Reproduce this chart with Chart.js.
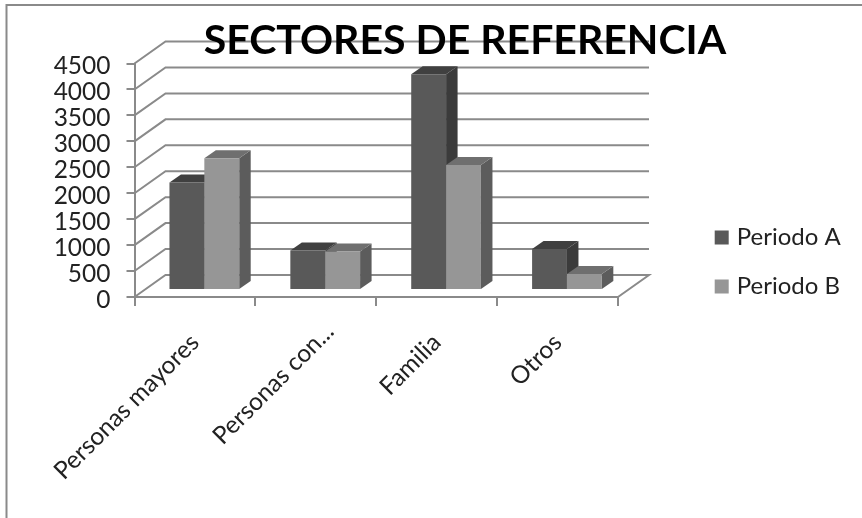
<!DOCTYPE html>
<html>
<head>
<meta charset="utf-8">
<title>Sectores de referencia</title>
<script src="https://cdn.jsdelivr.net/npm/chart.js@4"></script>
<style>
    html, body { margin: 0; padding: 0; background: #fff; }
    #wrap { width: 862px; height: 518px; }
</style>
</head>
<body>
<div id="wrap"><canvas id="sectoresChart" width="862" height="518"></canvas></div>
<script>
const categories = ['Personas mayores', 'Personas con...', 'Familia', 'Otros'];
const periodoA = [2070, 760, 4160, 790];
const periodoB = [2540, 740, 2410, 310];
const yTicks = [0, 500, 1000, 1500, 2000, 2500, 3000, 3500, 4000, 4500];

const lineGrey = '#8a8a8a';
const fontName = 'Lato, "Open Sans", sans-serif';

// depth of the fake 3d box and of the bars inside it
const wall = { x: 31, y: -22 };
const barShift = { x: 9.4, y: -7 };
const barDepth = { x: 11.5, y: -8 };
const shades = [
    { side: '#3b3b3b', top: '#404040' },
    { side: '#5c5c5c', top: '#6f6f6f' }
];

function poly(ctx, color, pts) {
    ctx.fillStyle = color;
    ctx.beginPath();
    pts.forEach((p, i) => i ? ctx.lineTo(p[0], p[1]) : ctx.moveTo(p[0], p[1]));
    ctx.closePath();
    ctx.fill();
}

const box3d = {
    id: 'box3d',
    afterLayout(chart) {
        // title sits over the plot, not over the whole canvas
        chart.titleBlock.left = 68;
        chart.titleBlock.right = 862;
        chart.legend.left = 693.7;
        chart.legend.right = 862;
        chart.legend.top = 200.5;
        // the shortened label sits further up and right than the others
        const cut = chart.scales.x.getLabelItems(chart.chartArea)[1];
        cut.options.translation[0] += 14;
        cut.options.translation[1] -= 11;
    },
    beforeDraw(chart) {
        const ctx = chart.ctx;
        const { left, right } = chart.chartArea;
        const y = chart.scales.y;
        ctx.save();
        ctx.strokeStyle = lineGrey;
        // outer frame, only left and top show in the picture
        ctx.lineWidth = 2;
        ctx.beginPath();
        ctx.moveTo(6.5, 518);
        ctx.lineTo(6.5, 5);
        ctx.lineTo(862, 5);
        ctx.stroke();
        // wall grid
        ctx.lineWidth = 2;
        yTicks.forEach(t => {
            const py = y.getPixelForValue(t);
            ctx.beginPath();
            ctx.moveTo(left, py);
            ctx.lineTo(left + wall.x, py + wall.y);
            ctx.lineTo(right + wall.x, py + wall.y);
            if (t === 0) {
                ctx.lineTo(right, py);
            }
            ctx.stroke();
        });
        ctx.restore();
    },
    // A has to go under B, the default order is the other way round
    beforeDatasetsDraw(chart) {
        const ctx = chart.ctx;
        ctx.save();
        ctx.translate(barShift.x, barShift.y);
        shades.forEach((c, i) => {
            chart.getDatasetMeta(i).data.forEach(bar => {
                const x1 = bar.x - bar.width / 2;
                const x2 = bar.x + bar.width / 2;
                const dx = barDepth.x;
                const dy = barDepth.y;
                poly(ctx, c.side, [[x2, bar.y], [x2 + dx, bar.y + dy], [x2 + dx, bar.base + dy], [x2, bar.base]]);
                poly(ctx, c.top, [[x1, bar.y], [x1 + dx, bar.y + dy], [x2 + dx, bar.y + dy], [x2, bar.y]]);
                bar.draw(ctx);
            });
        });
        ctx.restore();
        return false;
    }
};

const ctx = document.getElementById('sectoresChart').getContext('2d');
new Chart(ctx, {
    type: 'bar',
    data: {
        labels: categories,
        datasets: [
            { label: 'Periodo A', data: periodoA, backgroundColor: '#595959' },
            { label: 'Periodo B', data: periodoB, backgroundColor: '#969696' }
        ]
    },
    options: {
        responsive: false,
        animation: false,
        layout: { padding: { top: 0, right: 234, left: 0, bottom: 0 } },
        datasets: { bar: { barPercentage: 1, categoryPercentage: 0.577 } },
        plugins: {
            tooltip: { enabled: false },
            title: {
                display: true,
                text: 'SECTORES DE REFERENCIA',
                color: '#000',
                font: { family: fontName, size: 41, weight: 'bold', lineHeight: 1.1 },
                padding: { top: 18, bottom: 0.4 }
            },
            legend: {
                position: 'right',
                align: 'start',
                maxWidth: 10,
                labels: {
                    color: '#222',
                    font: { family: fontName, size: 24 },
                    usePointStyle: true,
                    pointStyle: 'rect',
                    boxWidth: 6,
                    boxHeight: 14,
                    padding: 25
                }
            }
        },
        scales: {
            x: {
                grid: { drawOnChartArea: false, color: lineGrey, lineWidth: 2, tickLength: 9 },
                border: { color: lineGrey, width: 2 },
                ticks: {
                    color: '#222',
                    font: { family: fontName, size: 24.5 },
                    minRotation: 45,
                    maxRotation: 45,
                    autoSkip: false,
                    padding: 22
                },
                afterFit(scale) { scale.height = 221; }
            },
            y: {
                min: 0,
                max: 4500,
                grid: { drawOnChartArea: false, color: lineGrey, lineWidth: 2, tickLength: 8 },
                border: { color: lineGrey, width: 2 },
                ticks: {
                    stepSize: 500,
                    autoSkip: false,
                    color: '#222',
                    font: { family: fontName, size: 24.5 },
                    format: { useGrouping: false },
                    labelOffset: 3,
                    padding: 16
                },
                afterFit(scale) { scale.width = 134.5; }
            }
        }
    },
    plugins: [box3d]
});
</script>
</body>
</html>
